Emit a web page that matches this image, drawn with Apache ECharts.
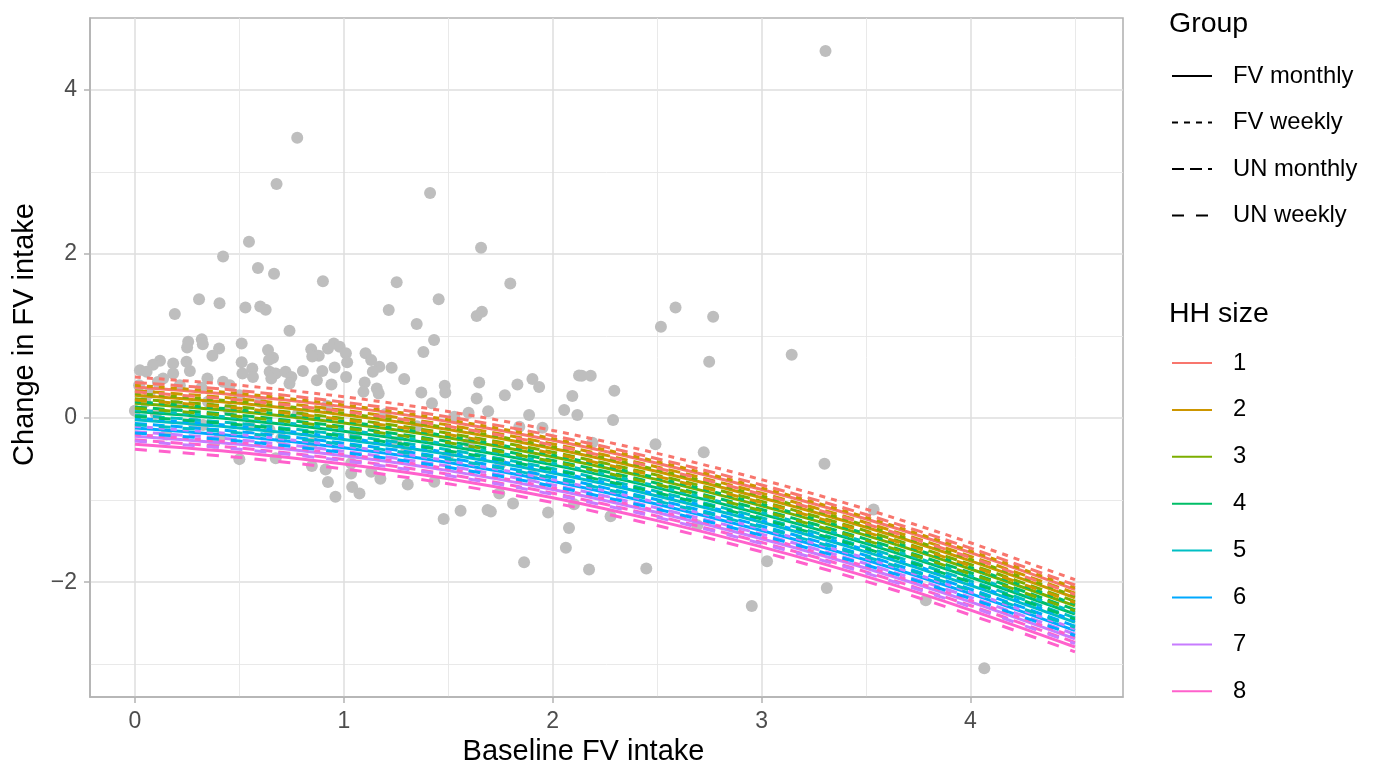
<!DOCTYPE html>
<html><head><meta charset="utf-8">
<script src="https://cdn.jsdelivr.net/npm/echarts@6/dist/echarts.min.js"></script>
<style>html,body{margin:0;padding:0;background:#fff}#c{width:1375px;height:769px}</style>
</head><body><div id="c"></div>
<script>
// ---- scatter points (baseline FV intake, change in FV intake) ----
const pointX = [3.306,0.777,0.678,1.413,0.546,0.422,0.589,0.666,0.90,0.307,0.405,0.529,0.60,0.626,0.191,0.74,0.255,0.25,0.32,0.325,
0.511,0.403,0.371,0.637,0.661,0.642,0.844,0.88,0.849,0.924,0.952,0.98,1.01,0.12,0.087,0.024,0.056,0.183,0.247,0.263,
0.183,0.511,0.562,0.515,0.565,0.645,0.674,0.653,0.721,0.749,0.804,0.74,0.897,0.956,1.011,0.871,0.941,1.016,0.347,0.319,
0.422,0.454,0.135,0.215,0.11,0.0,0.50,0.674,0.847,0.913,0.924,1.035,0.326,0.406,0.645,1.657,1.253,1.797,1.454,1.215,
1.636,1.661,1.349,1.432,1.381,1.104,1.131,1.17,1.139,1.229,1.289,1.10,1.094,1.158,1.167,1.371,1.483,1.486,1.648,1.636,
1.771,1.831,1.903,1.935,1.887,2.094,2.055,2.118,2.126,1.422,1.691,1.597,1.529,1.951,1.84,1.04,1.075,1.175,1.306,1.433,
0.96,1.478,1.559,1.688,1.704,1.81,1.744,1.978,2.078,2.102,1.298,1.035,1.131,2.588,2.518,2.768,2.749,3.144,2.139,2.182,
2.295,2.289,2.19,2.492,2.723,3.301,3.536,2.063,2.277,2.174,2.448,3.026,3.312,2.692,2.953,4.066,1.863,3.786,
0.05,0.10,0.20,0.28,0.45,0.55,0.60,0.70,0.78,0.85,0.92,1.05,1.20,1.25,1.35,1.50,1.60,1.75,1.90,0.38,0.15,0.50,0.35,0.02,0.07];
const pointY = [4.476,3.418,2.854,2.744,2.15,1.97,1.83,1.76,1.67,1.45,1.40,1.35,1.36,1.32,1.27,1.065,0.93,0.86,0.96,0.90,
0.91,0.85,0.76,0.83,0.735,0.71,0.84,0.76,0.75,0.85,0.91,0.87,0.79,0.70,0.65,0.585,0.565,0.667,0.687,0.573,
0.545,0.68,0.606,0.545,0.50,0.565,0.545,0.484,0.565,0.50,0.573,0.423,0.573,0.618,0.50,0.463,0.41,0.68,0.484,0.37,
0.443,0.40,0.484,0.40,0.44,0.09,-0.50,-0.49,-0.585,-0.626,-0.78,-0.675,-0.085,-0.24,-0.146,2.077,1.655,1.64,1.45,1.317,
1.244,1.296,1.146,0.951,0.805,0.79,0.707,0.626,0.565,0.614,0.476,0.435,0.32,0.362,0.30,0.313,0.394,0.313,0.435,0.24,
0.28,0.41,0.476,0.38,0.037,0.27,0.098,0.037,0.52,0.18,0.085,0.065,0.016,-0.118,-0.106,-0.84,-0.92,-0.74,-0.81,-0.777,
-0.96,-1.23,-1.13,-1.12,-1.14,-1.04,-0.92,-1.15,-1.34,-1.05,-0.41,-0.55,-0.655,1.35,1.115,1.235,0.687,0.772,0.516,0.516,
0.333,-0.024,-0.30,-0.32,-0.415,-0.557,-1.114,-1.58,-1.195,-1.845,-1.833,-1.744,-2.07,-1.305,-2.29,-3.05,-1.756,-2.22,
0.20,0.05,0.15,-0.05,0.10,-0.10,0.20,-0.25,0.05,-0.30,0.15,-0.20,0.05,-0.30,-0.10,-0.45,-0.30,-0.55,-0.70,-0.30,-0.20,0.28,0.20,0.40,0.30];

// ---- fitted curves: top curve (FV weekly, HH 1) read at these x, plus shifts ----
const curveX = [0, 0.5, 1, 1.5, 2, 2.5, 3, 3.5, 4, 4.5];
const topCurve = [0.50, 0.40, 0.26, 0.08, -0.15, -0.43, -0.75, -1.11, -1.52, -1.97];
const groups = ['FV monthly', 'FV weekly', 'UN monthly', 'UN weekly'];
const groupShift = [-0.12, 0, -0.065, -0.18];
const groupDash = ['solid', [6, 6], [12, 6], [12, 12]];
const hhSizes = ['1', '2', '3', '4', '5', '6', '7', '8'];
const hhShift = [0, -0.1, -0.2, -0.3, -0.4, -0.5, -0.6, -0.7];
const hhColors = ['#F8766D', '#CD9600', '#7CAE00', '#00BE67', '#00BFC4', '#00A9FF', '#C77CFF', '#FF61CC'];
const xTicks = [0, 1, 2, 3, 4];
const yTicks = [-2, 0, 2, 4];

const FONT = "'Liberation Sans', Arial, Helvetica, sans-serif";
const fmt = v => (v < 0 ? '\u2212' + Math.abs(v) : String(v));

const series = [];
series.push({
  type: 'scatter', name: 'points', z: 1,
  data: pointX.map((x, i) => [x, pointY[i]]),
  symbolSize: 12, itemStyle: { color: '#bebebe', opacity: 1 },
  silent: true
});
for (let g = 0; g < groups.length; g++) {
  for (let h = 0; h < hhSizes.length; h++) {
    series.push({
      type: 'line', name: groups[g] + ' / ' + hhSizes[h], z: 3,
      data: curveX.map((x, i) => [x, topCurve[i] + groupShift[g] + hhShift[h]]),
      smooth: 0.3, symbol: 'none', silent: true,
      lineStyle: { color: hhColors[h], width: 3, type: groupDash[g], cap: 'butt' }
    });
  }
}
// legend-only series
groups.forEach((n, g) => series.push({
  type: 'line', name: n, data: [], symbol: 'none', color: '#000',
  lineStyle: { color: '#000', width: 2.6, type: groupDash[g], cap: 'butt' }
}));
hhSizes.forEach((n, h) => series.push({
  type: 'line', name: n, data: [], symbol: 'none', color: hhColors[h],
  lineStyle: { color: hhColors[h], width: 2.6, type: 'solid' }
}));

const legendBase = {
  orient: 'vertical', left: 1171, itemWidth: 40, itemHeight: 14, padding: 0,
  selectedMode: false, itemStyle: { opacity: 0 },
  textStyle: { fontSize: 23.8, color: '#000', fontFamily: FONT, padding: [0, 0, 0, 16] }
};

const axisCommon = {
  axisLine: { show: true, onZero: false, lineStyle: { color: '#b3b3b3', width: 1.6 } },
  splitLine: { show: true, lineStyle: { color: '#dedede', width: 1.5 } },
  minorTick: { show: false, splitNumber: 2 },
  minorSplitLine: { show: true, lineStyle: { color: '#e6e6e6', width: 0.9 } }
};

const option = {
  animation: false,
  backgroundColor: '#fff',
  textStyle: { fontFamily: FONT },
  title: [
    { text: 'Group', left: 1169, top: 10, padding: 0, textStyle: { fontSize: 28.5, fontWeight: 'normal', color: '#000', fontFamily: FONT } },
    { text: 'HH size', left: 1169, top: 300, padding: 0, textStyle: { fontSize: 28.5, fontWeight: 'normal', color: '#000', fontFamily: FONT } }
  ],
  legend: [
    Object.assign({}, legendBase, { data: groups, top: 64, itemGap: 22.5 }),
    Object.assign({}, legendBase, { data: hhSizes, top: 351, itemGap: 22.9 })
  ],
  grid: { left: 90, right: 252, top: 18, bottom: 72, show: true, borderColor: '#b3b3b3', borderWidth: 1.6,
          containLabel: false, outerBoundsMode: 'none' },
  xAxis: Object.assign({}, axisCommon, {
    type: 'value', min: -0.215, max: 4.73, minInterval: 1, maxInterval: 1,
    name: 'Baseline FV intake', nameLocation: 'middle', nameGap: 40,
    nameTextStyle: { fontSize: 29, color: '#000', fontFamily: FONT, padding: [0, 46, 0, 0] },
    axisTick: { show: true, length: 6, lineStyle: { color: '#b3b3b3', width: 1.5 }, customValues: xTicks },
    axisLabel: { customValues: xTicks, formatter: fmt, fontSize: 23, color: '#4d4d4d', margin: 13, fontFamily: FONT }
  }),
  yAxis: Object.assign({}, axisCommon, {
    type: 'value', min: -3.40, max: 4.878, minInterval: 2, maxInterval: 2,
    name: 'Change in FV intake', nameLocation: 'middle', nameGap: 45,
    nameTextStyle: { fontSize: 29, color: '#000', fontFamily: FONT, padding: [0, 0, 0, 46] },
    axisTick: { show: true, length: 6, lineStyle: { color: '#b3b3b3', width: 1.5 }, customValues: yTicks },
    axisLabel: { customValues: yTicks, formatter: fmt, fontSize: 23, color: '#4d4d4d', margin: 13, fontFamily: FONT }
  }),
  series: series
};
echarts.init(document.getElementById('c'), null, { renderer: 'canvas' }).setOption(option);
</script></body></html>
